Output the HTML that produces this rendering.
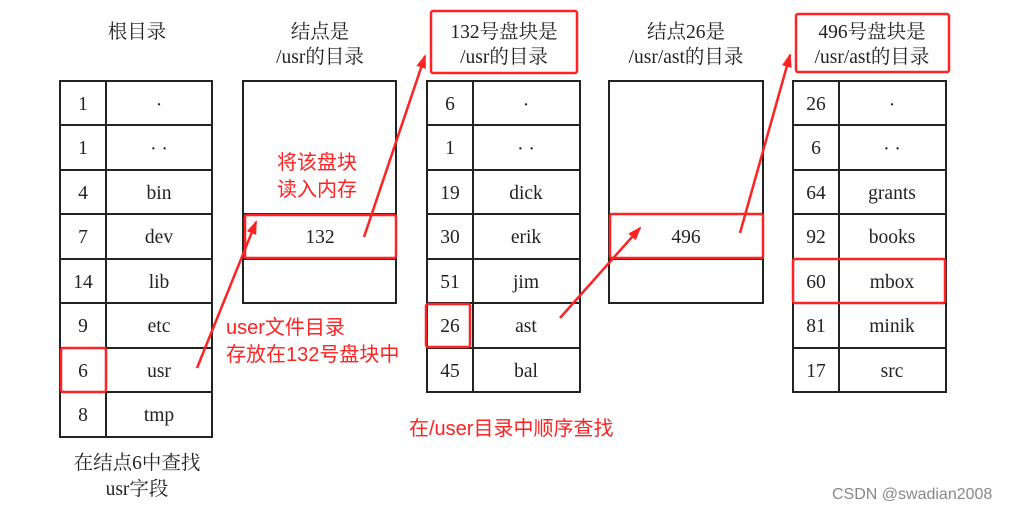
<!DOCTYPE html>
<html><head><meta charset="utf-8"><style>
body{margin:0;background:#fff;}
svg text{font-family:"Liberation Serif","Noto Serif CJK SC",serif;font-size:19.5px;fill:#222;}
svg text.r{font-family:"Liberation Sans","Noto Sans CJK SC",sans-serif;fill:#f22;font-size:20px;}
</style></head><body>
<svg width="1011" height="510" viewBox="0 0 1011 510" xmlns="http://www.w3.org/2000/svg">
<defs>
<marker id="b" markerWidth="14" markerHeight="12" refX="12" refY="6" orient="auto" markerUnits="userSpaceOnUse"><path d="M0,1 L14,6 L0,11 z" fill="#f22"/></marker></defs>
<g text-anchor="middle">
<text x="137" y="38">根目录</text>
<text x="320" y="38">结点是</text><text x="320" y="63">/usr的目录</text>
<text x="504" y="38">132号盘块是</text><text x="504" y="63">/usr的目录</text>
<text x="686" y="38">结点26是</text><text x="686" y="63">/usr/ast的目录</text>
<text x="872" y="38">496号盘块是</text><text x="872" y="63">/usr/ast的目录</text>
<text x="137" y="469">在结点6中查找</text><text x="137" y="495">usr字段</text>
</g>
<g fill="none" stroke="#222" stroke-width="2">
<rect x="60" y="81" width="152" height="356"/><line x1="106" y1="81" x2="106" y2="437"/>
<path d="M60 125H212M60 170H212M60 214H212M60 259H212M60 303H212M60 348H212M60 392H212"/>
<rect x="243" y="81" width="153" height="222"/><path d="M243 214H396M243 259H396"/>
<rect x="427" y="81" width="153" height="311"/><line x1="473" y1="81" x2="473" y2="392"/>
<path d="M427 125H580M427 170H580M427 214H580M427 259H580M427 303H580M427 348H580"/>
<rect x="609" y="81" width="154" height="222"/><path d="M609 214H763M609 259H763"/>
<rect x="793" y="81" width="153" height="311"/><line x1="839" y1="81" x2="839" y2="392"/>
<path d="M793 125H946M793 170H946M793 214H946M793 259H946M793 303H946M793 348H946"/>
</g>
<g text-anchor="middle">
<text x="83" y="110">1</text><text x="159" y="111">·</text>
<text x="83" y="154">1</text><text x="159" y="155">· ·</text>
<text x="83" y="199">4</text><text x="159" y="199">bin</text>
<text x="83" y="243">7</text><text x="159" y="243">dev</text>
<text x="83" y="288">14</text><text x="159" y="288">lib</text>
<text x="83" y="332">9</text><text x="159" y="332">etc</text>
<text x="83" y="377">6</text><text x="159" y="377">usr</text>
<text x="83" y="421">8</text><text x="159" y="421">tmp</text>
<text x="320" y="243">132</text>
<text x="450" y="110">6</text><text x="526" y="111">·</text>
<text x="450" y="154">1</text><text x="526" y="155">· ·</text>
<text x="450" y="199">19</text><text x="526" y="199">dick</text>
<text x="450" y="243">30</text><text x="526" y="243">erik</text>
<text x="450" y="288">51</text><text x="526" y="288">jim</text>
<text x="450" y="332">26</text><text x="526" y="332">ast</text>
<text x="450" y="377">45</text><text x="526" y="377">bal</text>
<text x="686" y="243">496</text>
<text x="816" y="110">26</text><text x="892" y="111">·</text>
<text x="816" y="154">6</text><text x="892" y="155">· ·</text>
<text x="816" y="199">64</text><text x="892" y="199">grants</text>
<text x="816" y="243">92</text><text x="892" y="243">books</text>
<text x="816" y="288">60</text><text x="892" y="288">mbox</text>
<text x="816" y="332">81</text><text x="892" y="332">minik</text>
<text x="816" y="377">17</text><text x="892" y="377">src</text>
</g>
<g fill="none" stroke="#f22" stroke-width="2.5">
<rect x="431" y="11" width="146" height="62" rx="2"/>
<rect x="796" y="14" width="153" height="58" rx="2"/>
<rect x="245" y="215" width="151" height="43" rx="2"/>
<rect x="610" y="214" width="153" height="44" rx="2"/>
<rect x="61" y="348" width="45" height="44" rx="2"/>
<rect x="426" y="304" width="44" height="43" rx="2"/>
<rect x="793" y="259" width="152" height="44" rx="2"/>
</g>
<g stroke="#f22" stroke-width="2.5" fill="none">
<line x1="197" y1="368" x2="256" y2="222" marker-end="url(#b)"/>
<line x1="364" y1="237" x2="425" y2="56" marker-end="url(#b)"/>
<line x1="560" y1="318" x2="640" y2="228" marker-end="url(#b)"/>
<line x1="740" y1="233" x2="790" y2="55" marker-end="url(#b)"/>
</g>
<text class="r" x="277" y="169">将该盘块</text>
<text class="r" x="277" y="196">读入内存</text>
<text class="r" x="226" y="334">user文件目录</text>
<text class="r" x="226" y="361">存放在132号盘块中</text>
<text class="r" x="409" y="435">在/user目录中顺序查找</text>
<text x="832" y="499" style="font-family:'Liberation Sans',sans-serif;font-size:16px;fill:#888">CSDN @swadian2008</text>
</svg>
</body></html>
